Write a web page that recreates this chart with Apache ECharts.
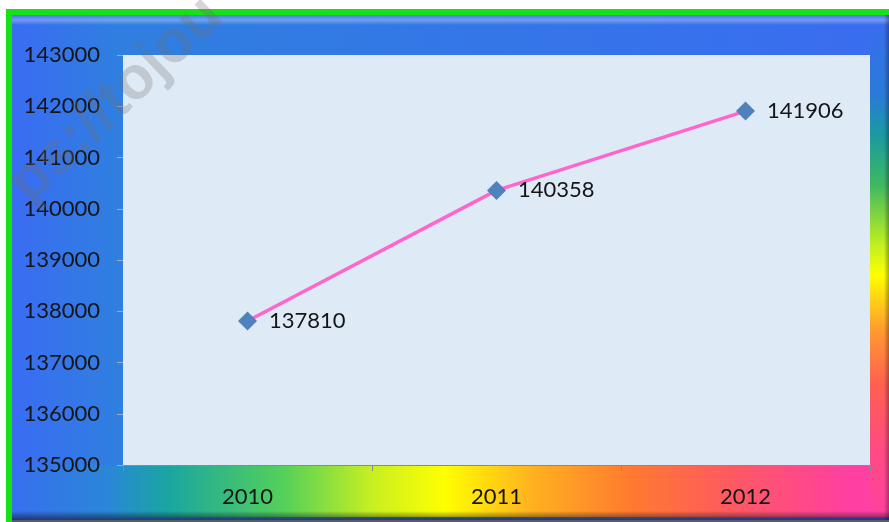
<!DOCTYPE html>
<html>
<head>
<meta charset="utf-8">
<script src="https://cdn.jsdelivr.net/npm/echarts@6/dist/echarts.min.js"></script>
<style>
html,body{margin:0;padding:0;background:#fff;overflow:hidden;}
#chart{width:889px;height:522px;}
</style>
</head>
<body>
<div id="chart"></div>
<script>
var categories = ['2010', '2011', '2012'];
var values = [137810, 140358, 141906];
var yMin = 135000, yMax = 143000, yStep = 1000;

var chart = echarts.init(document.getElementById('chart'));
var FONT = 'Lato';

chart.setOption({
  animation: false,
  backgroundColor: '#ffffff',
  graphic: {
    elements: [
      { type: 'rect', z: -20, shape: { x: 6, y: 9, width: 890, height: 6 }, style: { fill: '#16e016' } },
      { type: 'rect', z: -20, shape: { x: 6, y: 9, width: 6, height: 520 }, style: { fill: '#16e016' } },
      { type: 'rect', z: -19, shape: { x: 12, y: 15, width: 884, height: 510 },
        style: { fill: new echarts.graphic.LinearGradient(0, 0, 1, 0, [
          { offset: 0, color: '#3a6cf2' }, { offset: 0.12, color: '#2f7fe0' }, { offset: 1, color: '#3a6cf0' }]) } },
      { type: 'rect', z: -18, shape: { x: 12, y: 465, width: 884, height: 52 },
        style: { fill: new echarts.graphic.LinearGradient(0, 0, 889, 0, [
          { offset: 0, color: '#3a6cf2' },
          { offset: 0.12, color: '#2a86d8' },
          { offset: 0.19, color: '#1aa6a0' },
          { offset: 0.32, color: '#55d05a' },
          { offset: 0.42, color: '#c8f020' },
          { offset: 0.50, color: '#ffff00' },
          { offset: 0.60, color: '#ffb020' },
          { offset: 0.71, color: '#ff7a30' },
          { offset: 0.82, color: '#ff5a60' },
          { offset: 0.95, color: '#ff40a0' },
          { offset: 1, color: '#ff40a8' }], true) } },
      { type: 'rect', z: -17, shape: { x: 870, y: 15, width: 26, height: 500 },
        style: { fill: new echarts.graphic.LinearGradient(0, 0, 0, 1, [
          { offset: 0, color: '#3a6cf0' },
          { offset: 0.16, color: '#2a7ad8' },
          { offset: 0.24, color: '#1a9aa0' },
          { offset: 0.34, color: '#40b860' },
          { offset: 0.46, color: '#c0f020' },
          { offset: 0.52, color: '#ffff00' },
          { offset: 0.63, color: '#ff9a30' },
          { offset: 0.74, color: '#ff6050' },
          { offset: 0.86, color: '#ff4c80' },
          { offset: 1, color: '#ff40a0' }]) } },
      { type: 'rect', z: -16, shape: { x: 12, y: 15, width: 884, height: 10 },
        style: { fill: new echarts.graphic.LinearGradient(0, 0, 0, 1, [
          { offset: 0, color: 'rgba(255,255,255,0.05)' }, { offset: 0.5, color: 'rgba(255,255,255,0.3)' }, { offset: 1, color: 'rgba(255,255,255,0)' }]) } },
      { type: 'rect', z: -16, shape: { x: 12, y: 511, width: 884, height: 9 },
        style: { fill: new echarts.graphic.LinearGradient(0, 0, 0, 1, [
          { offset: 0, color: 'rgba(0,0,0,0)' }, { offset: 1, color: 'rgba(20,20,40,0.6)' }]) } },
      { type: 'rect', z: -16, shape: { x: 12, y: 520, width: 884, height: 5 }, style: { fill: '#5a5a6a' } },
      { type: 'rect', z: -16, shape: { x: 884, y: 15, width: 5, height: 505 },
        style: { fill: new echarts.graphic.LinearGradient(0, 0, 1, 0, [
          { offset: 0, color: 'rgba(0,0,0,0)' }, { offset: 1, color: 'rgba(20,20,40,0.35)' }]) } },
      { type: 'text', z: 50, x: 116, y: 100, rotation: 0.76,
        style: { text: 'ps://tojou', fill: 'rgba(110,110,110,0.28)', font: 'bold 60px "Liberation Sans"', align: 'center', verticalAlign: 'middle' } }
    ]
  },
  grid: {
    left: 123, top: 55, right: 19, bottom: 57,
    show: true, backgroundColor: '#dfeaf7', borderWidth: 0
  },
  xAxis: {
    type: 'category',
    data: categories,
    boundaryGap: true,
    axisLine: { lineStyle: { color: '#8a8a8a', width: 1 } },
    axisTick: { show: true, length: 6, lineStyle: { color: '#8a8a8a' } },
    axisLabel: { fontFamily: FONT, fontSize: 22, color: '#151515', margin: 21 }
  },
  yAxis: {
    type: 'value',
    min: yMin, max: yMax, interval: yStep,
    axisLine: { show: false },
    axisTick: { show: true, length: 6, lineStyle: { color: '#9aa8c0' } },
    splitLine: { show: false },
    axisLabel: { fontFamily: FONT, fontSize: 22, color: '#151515', margin: 23,
      formatter: function (v) { return String(v); } }
  },
  series: [{
    type: 'line',
    data: values,
    symbol: 'diamond',
    symbolSize: 19,
    itemStyle: { color: '#4f81bd' },
    lineStyle: { color: '#ff66cc', width: 3.5 },
    label: { show: true, position: 'right', distance: 12, fontFamily: FONT, fontSize: 22, color: '#151515' }
  }]
});
</script>
</body>
</html>
